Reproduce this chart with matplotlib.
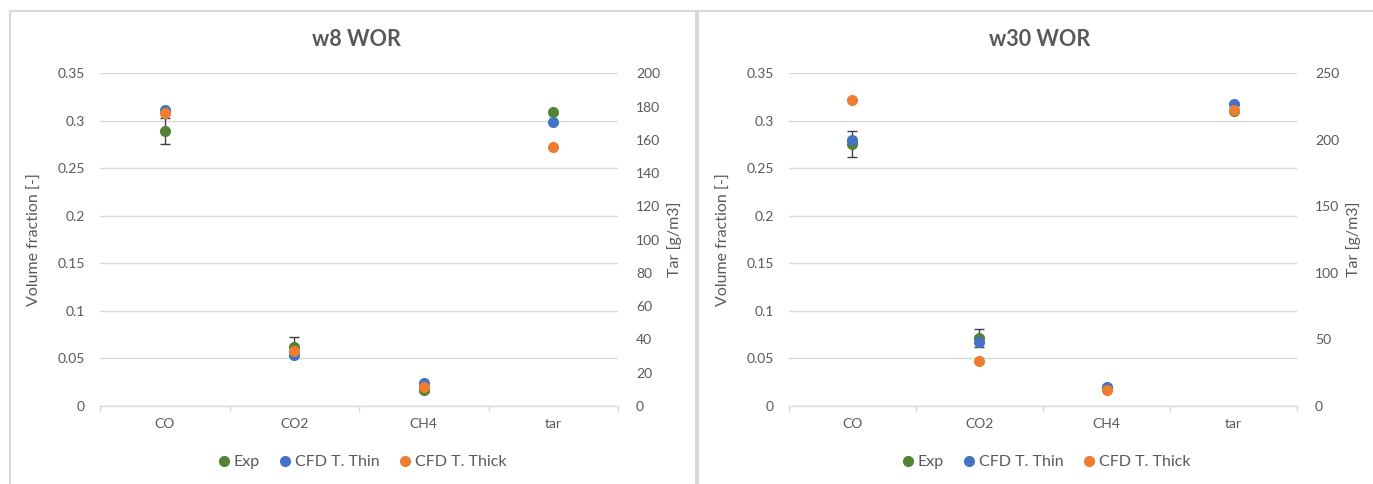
import numpy as np
import matplotlib
matplotlib.use("Agg")
import matplotlib.pyplot as plt
from matplotlib.patches import Rectangle

plt.rcParams['font.family'] = ['Lato', 'DejaVu Sans']

# --- data ---
gases = ["CO", "CO2", "CH4"]
categories = ["CO", "CO2", "CH4", "tar"]

w8_exp = [0.289, 0.0623, 0.0168]
w8_exp_err = [0.0135, 0.010, 0.002]
w8_thin = [0.3114, 0.0539, 0.0238]
w8_thick = [0.3079, 0.0581, 0.0203]
w8_tar = {"Exp": 177.0, "Thin": 170.8, "Thick": 155.4}

w30_exp = [0.2756, 0.0715, 0.0185]
w30_exp_err = [0.0133, 0.0095, 0.002]
w30_thin = [0.2798, 0.0669, 0.0197]
w30_thick = [0.3216, 0.047, 0.0171]
w30_tar = {"Exp": 221.6, "Thin": 226.7, "Thick": 222.4}

GREEN = "#548235"
BLUE = "#4472c4"
ORANGE = "#ed7d31"
TXT = "#595959"
GRID = "#d9d9d9"

W, H = 1373, 484
fig = plt.figure(figsize=(W / 100, H / 100), dpi=100)


def fx(px):
    return px / W


def fy(py):
    return 1 - py / H


def panel(x0, x1, title, exp, err, thin, thick, tar, tar_max, tar_step, title_x):
    ax = fig.add_axes([fx(x0), fy(405.8), fx(x1 - x0), 332.5 / H])
    ax2 = ax.twinx()
    xs = np.arange(len(gases))
    ax.errorbar(xs, exp, yerr=err, fmt="o", color=GREEN, ms=7, ecolor="#404040",
                elinewidth=1, capsize=3.5, capthick=1, zorder=3)
    ax.plot(xs, thin, "o", color=BLUE, ms=7, zorder=4)
    ax.plot(xs, thick, "o", color=ORANGE, ms=7, zorder=5)
    tx = len(gases)
    ax2.plot([tx], [tar["Exp"]], "o", color=GREEN, ms=7)
    ax2.plot([tx], [tar["Thin"]], "o", color=BLUE, ms=7)
    ax2.plot([tx], [tar["Thick"]], "o", color=ORANGE, ms=7)

    ax.set_xlim(-0.5, 3.5)
    ax.set_ylim(0, 0.35)
    ax2.set_ylim(0, tar_max)
    yt = np.arange(0, 0.3501, 0.05)
    ax.set_yticks(yt)
    ax.set_yticklabels([f"{v:g}" for v in np.round(yt, 2)])
    t2 = np.arange(0, tar_max + 1, tar_step)
    ax2.set_yticks(t2)
    ax2.set_yticklabels([f"{int(v)}" for v in t2])
    ax.set_xticks(range(4))
    ax.set_xticklabels(categories)
    ax.set_xticks(np.arange(-0.5, 4, 1), minor=True)

    ax.grid(axis="y", color=GRID, lw=1)
    ax.set_axisbelow(True)
    for a in (ax, ax2):
        for s in ("top", "left", "right"):
            a.spines[s].set_visible(False)
        a.spines["bottom"].set_color(GRID)
        a.tick_params(axis="y", length=0, labelsize=10, labelcolor=TXT, pad=11)
    ax.tick_params(axis="x", which="major", length=0, labelsize=10, labelcolor=TXT, pad=9)
    ax.tick_params(axis="x", which="minor", length=4, color=GRID, width=1)
    ax2.tick_params(axis="y", pad=13)

    ax.set_ylabel("Volume fraction [-]", fontsize=11.5, color=TXT, labelpad=11)
    ax2.set_ylabel("Tar [g/m3]", fontsize=11.5, color=TXT, labelpad=5)

    fig.text(fx(title_x), fy(40), title, ha="center", va="center",
             fontsize=15.5, fontweight="bold", color=TXT)

    handles = [
        plt.Line2D([], [], ls="", marker="o", color=GREEN, ms=7),
        plt.Line2D([], [], ls="", marker="o", color=BLUE, ms=7),
        plt.Line2D([], [], ls="", marker="o", color=ORANGE, ms=7),
    ]
    fig.legend(handles, ["Exp", "CFD T. Thin", "CFD T. Thick"], loc="center",
               bbox_to_anchor=(fx(title_x + 5), fy(462)), ncol=3, frameon=False,
               fontsize=11.5, labelcolor=TXT, handletextpad=0.1, columnspacing=1.1,
               handlelength=1.0)


panel(100, 618, "w8 WOR", w8_exp, w8_exp_err, w8_thin, w8_thick, w8_tar, 200, 20, 356)
panel(789, 1297, "w30 WOR", w30_exp, w30_exp_err, w30_thin, w30_thick, w30_tar, 250, 50, 1040)

# chart area borders
fig.add_artist(Rectangle((fx(10), fy(490)), fx(686), (490 - 11) / H, transform=fig.transFigure,
                         fill=False, ec=GRID, lw=1.5))
fig.add_artist(Rectangle((fx(698), fy(490)), fx(690), (490 - 11) / H, transform=fig.transFigure,
                         fill=False, ec=GRID, lw=1.5))

fig.savefig("out.png", dpi=100)
